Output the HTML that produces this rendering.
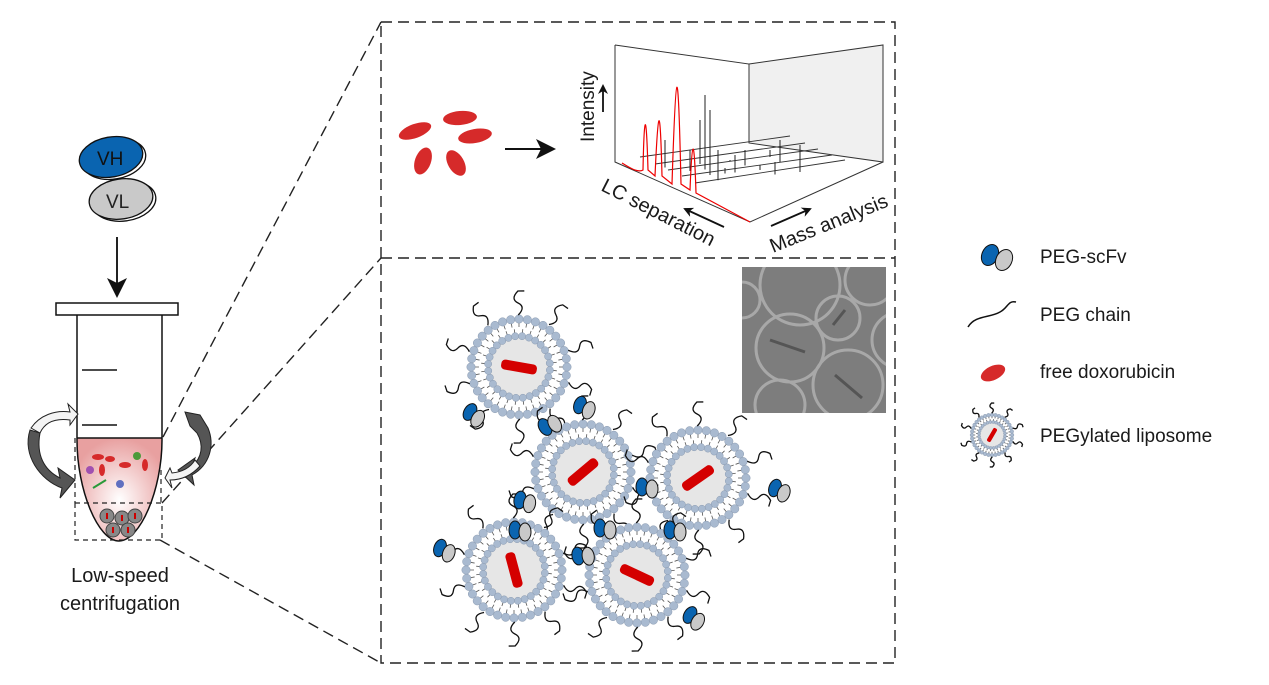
<!DOCTYPE html>
<html><head><meta charset="utf-8"><style>
html,body{margin:0;padding:0;background:#fff}
svg{display:block}
text{font-family:"Liberation Sans",sans-serif;fill:#1a1a1a}
</style></head><body>
<svg id="s" width="1269" height="685" viewBox="0 0 1269 685" xmlns="http://www.w3.org/2000/svg">
<defs>
<radialGradient id="liq" cx="0.5" cy="0.6" r="0.6"><stop offset="0" stop-color="#fff"/><stop offset="1" stop-color="#e8a0a0"/></radialGradient>
<marker id="ah" markerWidth="10" markerHeight="10" refX="8" refY="5" orient="auto" markerUnits="userSpaceOnUse"><path d="M0,0 L10,5 L0,10 L3,5Z" fill="#111"/></marker>
<marker id="ah2" markerWidth="20" markerHeight="20" refX="16" refY="10" orient="auto" markerUnits="userSpaceOnUse"><path d="M0,0 L20,10 L0,20 L5,10Z" fill="#111"/></marker>
<clipPath id="tc"><rect x="742" y="267" width="144" height="146"/></clipPath>
</defs>
<!-- dashed boxes -->
<g fill="none" stroke="#222" stroke-width="1.4" stroke-dasharray="11,6">
<rect x="381" y="22" width="514" height="641"/>
<line x1="381" y1="258" x2="895" y2="258"/>
<line x1="163" y1="437" x2="381" y2="22"/>
<line x1="162" y1="503" x2="381" y2="258"/>
<line x1="160" y1="540" x2="381" y2="663"/>
</g>
<!-- VH VL -->
<ellipse cx="124" cy="201" rx="32" ry="20" transform="rotate(-8 124 201)" fill="#fff" stroke="#111" stroke-width="1.3"/>
<ellipse cx="121" cy="199" rx="32" ry="20" transform="rotate(-8 121 199)" fill="#c9c9c9" stroke="#111" stroke-width="1.3"/>
<ellipse cx="114" cy="159" rx="32" ry="20" transform="rotate(-10 114 159)" fill="#fff" stroke="#111" stroke-width="1.3"/>
<ellipse cx="111" cy="157" rx="32" ry="20" transform="rotate(-10 111 157)" fill="#0a64b0" stroke="#111" stroke-width="1.3"/>
<text x="97" y="165" font-size="19" style="fill:#111">VH</text>
<text x="106" y="208" font-size="19" style="fill:#222">VL</text>
<line x1="117" y1="237" x2="117" y2="294" stroke="#222" stroke-width="2" marker-end="url(#ah2)"/>
<!-- tube -->
<rect x="56" y="303" width="122" height="12" fill="#fff" stroke="#111" stroke-width="1.5"/>
<path d="M77,438 L162,438 L162,440 C162,490 140,541 119,541 C98,541 77,490 77,440Z" fill="url(#liq)"/>
<path d="M77,315 L77,440 C77,490 98,541 119,541 C140,541 162,490 162,440 L162,315" fill="none" stroke="#111" stroke-width="1.5"/>
<line x1="77" y1="438" x2="162" y2="438" stroke="#111" stroke-width="1.5"/>
<line x1="82" y1="370" x2="117" y2="370" stroke="#111" stroke-width="1.5"/>
<line x1="82" y1="425" x2="117" y2="425" stroke="#111" stroke-width="1.5"/>
<g fill="none" stroke="#222" stroke-width="1.2" stroke-dasharray="5,4"><rect x="75" y="503" width="87" height="37"/><line x1="75" y1="438" x2="75" y2="503"/><line x1="161" y1="470" x2="161" y2="503"/></g>
<g fill="#d62a2a"><ellipse cx="98" cy="457" rx="6" ry="3"/><ellipse cx="110" cy="459" rx="5" ry="3"/><ellipse cx="125" cy="465" rx="6" ry="3"/><ellipse cx="102" cy="470" rx="3" ry="6"/><ellipse cx="145" cy="465" rx="3" ry="6"/></g>
<circle cx="90" cy="470" r="4" fill="#a050b0"/><path d="M93,488 L106,480" stroke="#2a9a3a" stroke-width="2"/><circle cx="120" cy="484" r="4" fill="#6070c0"/><circle cx="137" cy="456" r="4" fill="#4a9a3a"/>
<g fill="#888" stroke="#444" stroke-width="1"><circle cx="107" cy="516" r="7"/><circle cx="122" cy="518" r="7"/><circle cx="135" cy="516" r="7"/><circle cx="113" cy="530" r="7"/><circle cx="128" cy="530" r="7"/></g>
<g fill="#c00"><rect x="106" y="513" width="2" height="6"/><rect x="121" y="515" width="2" height="6"/><rect x="134" y="513" width="2" height="6"/><rect x="112" y="527" width="2" height="6"/><rect x="127" y="527" width="2" height="6"/></g>
<!-- rotation arrows -->
<path d="M30,430 C22,455 40,480 62,488 L60,498 L75,480 L58,468 L60,478 C44,470 36,455 40,433Z" fill="#555" stroke="#222"/>
<path d="M31,428 C40,415 55,410 70,412 L68,404 L78,414 L70,425 L70,420 C55,418 45,422 40,433Z" fill="#f4f4f4" stroke="#222"/>
<path d="M208,428 C215,445 210,465 192,475 L194,485 L178,470 L195,458 L192,466 C202,458 204,445 197,433 L190,426 L185,412 L200,415Z" fill="#555" stroke="#222"/>
<path d="M200,466 C192,475 182,480 170,480 L172,488 L165,478 L170,468 L172,473 C182,472 190,468 195,460Z" fill="#f4f4f4" stroke="#222"/>
<text x="120" y="582" font-size="20" text-anchor="middle">Low-speed</text>
<text x="120" y="610" font-size="20" text-anchor="middle">centrifugation</text>
<!-- free dox top -->
<g fill="#d62a2a"><ellipse cx="415" cy="131" rx="17" ry="7" transform="rotate(-20 415 131)"/><ellipse cx="460" cy="118" rx="17" ry="7" transform="rotate(-5 460 118)"/><ellipse cx="475" cy="136" rx="17" ry="7" transform="rotate(-10 475 136)"/><ellipse cx="423" cy="161" rx="8" ry="14" transform="rotate(20 423 161)"/><ellipse cx="456" cy="163" rx="8" ry="14" transform="rotate(-30 456 163)"/></g>
<line x1="505" y1="149" x2="552" y2="149" stroke="#111" stroke-width="2" marker-end="url(#ah2)"/>
<!-- chart -->
<path d="M749,64 L883,45 L883,162 L749,143Z" fill="#f0f0f0" stroke="#333"/>
<path d="M615,45 L749,64 L749,143 M615,45 L615,162 L750,222 L883,162" fill="none" stroke="#333"/>
<g stroke="#333" stroke-width="0.9" fill="none"><path d="M640,157 L790,136 M655,164 L805,143 M668,170 L818,149 M682,176 L832,155 M695,183 L845,160"/></g>
<g id="bars" stroke="#222" stroke-width="1"></g>
<path d="M622,163 C630,168 638,173 643,170 C644,120 646,100 648,170 L655,176 C658,110 660,95 662,176 L672,184 C676,60 678,50 681,184 L690,190 C692,140 694,130 696,193 L750,222" fill="none" stroke="#e00" stroke-width="1.2"/>
<text transform="translate(594,142) rotate(-90)" font-size="19">Intensity</text>
<line x1="603" y1="112" x2="603" y2="86" stroke="#111" stroke-width="1.8" marker-end="url(#ah)"/>
<text transform="translate(600,190) rotate(27)" font-size="20">LC separation</text>
<line x1="724" y1="227" x2="685" y2="209" stroke="#111" stroke-width="1.8" marker-end="url(#ah)"/>
<text transform="translate(773,253) rotate(-22)" font-size="20">Mass analysis</text>
<line x1="771" y1="226" x2="810" y2="209" stroke="#111" stroke-width="1.8" marker-end="url(#ah)"/>
<!-- TEM -->
<g clip-path="url(#tc)">
<rect x="742" y="267" width="144" height="146" fill="#7d7d7d"/>
<g fill="none" stroke="#a8a8a8" stroke-width="3"><circle cx="800" cy="285" r="40"/><circle cx="838" cy="318" r="22"/><circle cx="790" cy="348" r="34"/><circle cx="848" cy="385" r="35"/><circle cx="780" cy="405" r="25"/><circle cx="900" cy="340" r="28"/><circle cx="742" cy="300" r="18"/><circle cx="870" cy="280" r="25"/></g>
<g stroke="#555" stroke-width="3"><line x1="770" y1="340" x2="805" y2="352"/><line x1="833" y1="325" x2="845" y2="310"/><line x1="835" y1="375" x2="862" y2="398"/></g>
</g>
<g id="lip"></g>
<!-- legend -->
<ellipse cx="990" cy="255" rx="8" ry="11" transform="rotate(25 990 255)" fill="#0a64b0" stroke="#111"/>
<ellipse cx="1004" cy="260" rx="8" ry="11" transform="rotate(25 1004 260)" fill="#c9c9c9" stroke="#111"/>
<path d="M968,327 C975,315 990,318 1000,312 C1008,308 1008,300 1016,302" fill="none" stroke="#111" stroke-width="1.5"/>
<ellipse cx="993" cy="373" rx="13" ry="7" transform="rotate(-25 993 373)" fill="#d62a2a"/>
<g id="leg"></g>
<text x="1040" y="263" font-size="19">PEG-scFv</text>
<text x="1040" y="321" font-size="19">PEG chain</text>
<text x="1040" y="378" font-size="19">free doxorubicin</text>
<text x="1040" y="442" font-size="19">PEGylated liposome</text>
</svg>
<script>
var NS="http://www.w3.org/2000/svg";
function el(p,t,a){var e=document.createElementNS(NS,t);for(var k in a)e.setAttribute(k,a[k]);p.appendChild(e);return e;}
var bars=document.getElementById("bars");
var bd=[[700,120],[705,95],[710,110],[718,150],[730,160],[745,150],[760,165],[775,162],[665,140],[690,150],[735,155],[800,145],[770,150],[780,140],[725,168]];
bd.forEach(function(b,i){var x=b[0],y0=150+((x-640)*-0.1)+ (i%4)*6;el(bars,"line",{x1:x,y1:y0+20,x2:x,y2:b[1]});});
function lipo(g,cx,cy,s,drugAng){
 var R=48*s;
 el(g,"circle",{cx:cx,cy:cy,r:R,fill:"#fff"});
 el(g,"circle",{cx:cx,cy:cy,r:31*s,fill:"#e6e6e6"});
 var n=36,n2=28;
 for(var i=0;i<n;i++){var a=i/n*6.283;
  el(g,"line",{x1:cx+Math.cos(a)*R,y1:cy+Math.sin(a)*R,x2:cx+Math.cos(a)*40*s,y2:cy+Math.sin(a)*40*s,stroke:"#555","stroke-width":0.8});
  el(g,"circle",{cx:cx+Math.cos(a)*R,cy:cy+Math.sin(a)*R,r:4.2*s,fill:"#a9bad0",stroke:"#8a9ab0","stroke-width":0.5});}
 for(var i=0;i<n2;i++){var a=i/n2*6.283+0.1;
  el(g,"line",{x1:cx+Math.cos(a)*31*s,y1:cy+Math.sin(a)*31*s,x2:cx+Math.cos(a)*38*s,y2:cy+Math.sin(a)*38*s,stroke:"#555","stroke-width":0.8});
  el(g,"circle",{cx:cx+Math.cos(a)*31*s,cy:cy+Math.sin(a)*31*s,r:3.6*s,fill:"#a9bad0",stroke:"#8a9ab0","stroke-width":0.5});}
 el(g,"rect",{x:cx-18*s,y:cy-5*s,width:36*s,height:10*s,rx:4*s,fill:"#d40000",transform:"rotate("+drugAng+" "+cx+" "+cy+")"});
 for(var i=0;i<10;i++){var a=i/10*6.283+0.3,x0=cx+Math.cos(a)*(R+4*s),y0=cy+Math.sin(a)*(R+4*s),x1=cx+Math.cos(a)*(R+28*s),y1=cy+Math.sin(a)*(R+28*s);
  var px=-Math.sin(a)*8*s,py=Math.cos(a)*8*s;
  el(g,"path",{d:"M"+x0+","+y0+" Q"+((x0*2+x1)/3+px)+","+((y0*2+y1)/3+py)+" "+((x0+x1)/2)+","+((y0+y1)/2)+" T"+x1+","+y1+" l"+(px*0.8)+","+(py*0.8),fill:"none",stroke:"#111","stroke-width":1.3});}
}
var L=document.getElementById("lip");
[[519,367,10],[583,472,-40],[698,478,-35],[514,570,75],[637,575,25]].forEach(function(p){lipo(L,p[0],p[1],1,p[2]);});
function scfv(x,y,r){var g=el(L,"g",{transform:"translate("+x+","+y+") rotate("+r+")"});
 el(g,"ellipse",{cx:0,cy:0,rx:6,ry:9,fill:"#0a64b0",stroke:"#111"});el(g,"ellipse",{cx:10,cy:2,rx:6,ry:9,fill:"#c9c9c9",stroke:"#111"});}
[[470,412,30],[580,405,20],[545,427,-30],[520,500,10],[642,487,0],[775,488,20],[440,548,20],[578,556,-10],[600,528,0],[690,615,30],[670,530,0],[515,530,0]].forEach(function(p){scfv(p[0],p[1],p[2]);});
lipo(document.getElementById("leg"),992,435,0.42,-60);
</script>
</body></html>
